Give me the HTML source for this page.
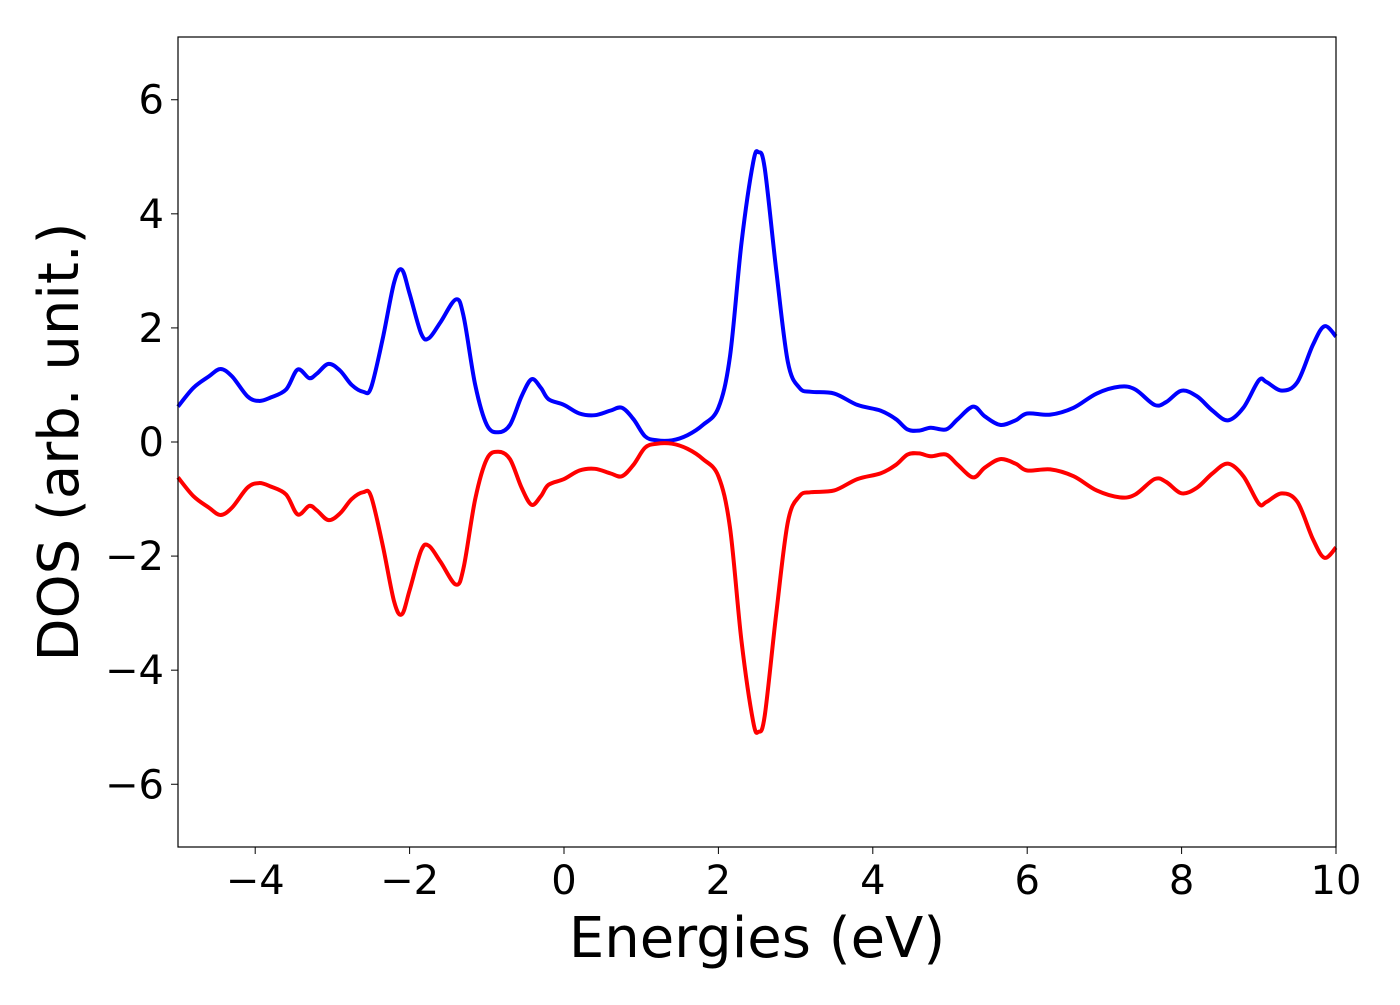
<!DOCTYPE html>
<html><head><meta charset="utf-8"><style>
body{margin:0;background:#fff}
svg text{font-family:"DejaVu Sans","Liberation Sans",sans-serif;fill:#000}
</style></head><body>
<svg id="chart" width="1400" height="1000" xmlns="http://www.w3.org/2000/svg">
<rect width="1400" height="1000" fill="#fff"/>
<g id="marks"></g>
<rect x="178" y="37" width="1158" height="810" fill="none" stroke="#000" stroke-width="1.2"/>
<g id="ticks"></g>
<text x="757" y="957" font-size="56" text-anchor="middle">Energies (eV)</text>
<text transform="translate(78,442) rotate(-90)" font-size="56" text-anchor="middle">DOS (arb. unit.)</text>
</svg>
<script>
const energies=[-5,-4.8,-4.6,-4.45,-4.3,-4.1,-3.95,-3.8,-3.6,-3.45,-3.3,-3.2,-3.05,-2.9,-2.75,-2.6,-2.5,-2.35,-2.2,-2.1,-2.0,-1.85,-1.75,-1.6,-1.4,-1.3,-1.15,-1.0,-0.85,-0.7,-0.55,-0.42,-0.3,-0.2,0,0.2,0.4,0.6,0.75,0.9,1.05,1.2,1.4,1.6,1.8,2.0,2.15,2.3,2.45,2.52,2.6,2.75,2.9,3.05,3.2,3.5,3.8,4.1,4.3,4.45,4.6,4.75,4.95,5.1,5.3,5.45,5.65,5.85,6.0,6.3,6.6,6.9,7.2,7.4,7.65,7.8,8.0,8.2,8.4,8.6,8.8,9.0,9.1,9.3,9.5,9.7,9.85,10];
const dosUp=[0.62,0.95,1.15,1.28,1.15,0.8,0.72,0.78,0.92,1.27,1.12,1.2,1.37,1.25,1.0,0.88,0.95,1.8,2.8,3.02,2.6,1.9,1.82,2.1,2.5,2.2,1.0,0.3,0.17,0.3,0.8,1.1,0.95,0.75,0.65,0.5,0.47,0.55,0.6,0.4,0.1,0.03,0.03,0.12,0.3,0.6,1.5,3.5,4.9,5.08,4.8,3.0,1.4,0.95,0.88,0.85,0.65,0.55,0.4,0.22,0.2,0.25,0.22,0.4,0.62,0.45,0.3,0.38,0.5,0.48,0.6,0.85,0.97,0.92,0.65,0.7,0.9,0.8,0.55,0.38,0.6,1.08,1.05,0.9,1.05,1.7,2.03,1.85];
const dosDown=dosUp.map(v=>-v);
const xTicks=[-4,-2,0,2,4,6,8,10];
const yTicks=[-6,-4,-2,0,2,4,6];
const xMin=-5,xMax=10,yMin=-7.1,yMax=7.1;
const L=178,R=1336,T=37,B=847;
const sx=v=>L+(v-xMin)/(xMax-xMin)*(R-L);
const sy=v=>B-(v-yMin)/(yMax-yMin)*(B-T);
const NS='http://www.w3.org/2000/svg';
function pathFor(xs,ys){
  const p=xs.map((x,i)=>[sx(x),sy(ys[i])]);
  let d='M'+p[0][0]+','+p[0][1];
  for(let i=0;i<p.length-1;i++){
    const p0=p[Math.max(0,i-1)],p1=p[i],p2=p[i+1],p3=p[Math.min(p.length-1,i+2)];
    const c1=[p1[0]+(p2[0]-p0[0])/6,p1[1]+(p2[1]-p0[1])/6];
    const c2=[p2[0]-(p3[0]-p1[0])/6,p2[1]-(p3[1]-p1[1])/6];
    d+=' C'+c1+' '+c2+' '+p2;
  }
  return d;
}
const marks=document.getElementById('marks');
[[dosUp,'#0000ff','spin-up-line'],[dosDown,'#ff0000','spin-down-line']].forEach(([ys,c,n])=>{
  const el=document.createElementNS(NS,'path');
  el.setAttribute('d',pathFor(energies,ys));
  el.setAttribute('fill','none');el.setAttribute('stroke',c);el.setAttribute('stroke-width','4');
  
  
  marks.appendChild(el);
});
const tk=document.getElementById('ticks');
const fmt=v=>v<0?'\u2212'+(-v):''+v;
xTicks.forEach(v=>{
  const l=document.createElementNS(NS,'line');
  l.setAttribute('x1',sx(v));l.setAttribute('x2',sx(v));l.setAttribute('y1',B);l.setAttribute('y2',B+7);l.setAttribute('stroke','#000');
  
  
  tk.appendChild(l);
  const t=document.createElementNS(NS,'text');
  t.setAttribute('x',sx(v));t.setAttribute('y',B+47);t.setAttribute('font-size','40');t.setAttribute('text-anchor','middle');
  t.textContent=fmt(v);
  
  
  tk.appendChild(t);
});
yTicks.forEach(v=>{
  const l=document.createElementNS(NS,'line');
  l.setAttribute('x1',L-7);l.setAttribute('x2',L);l.setAttribute('y1',sy(v));l.setAttribute('y2',sy(v));l.setAttribute('stroke','#000');
  
  
  tk.appendChild(l);
  const t=document.createElementNS(NS,'text');
  t.setAttribute('x',L-14);t.setAttribute('y',sy(v)+14);t.setAttribute('font-size','40');t.setAttribute('text-anchor','end');
  t.textContent=fmt(v);
  
  
  tk.appendChild(t);
});
</script>
</body></html>
